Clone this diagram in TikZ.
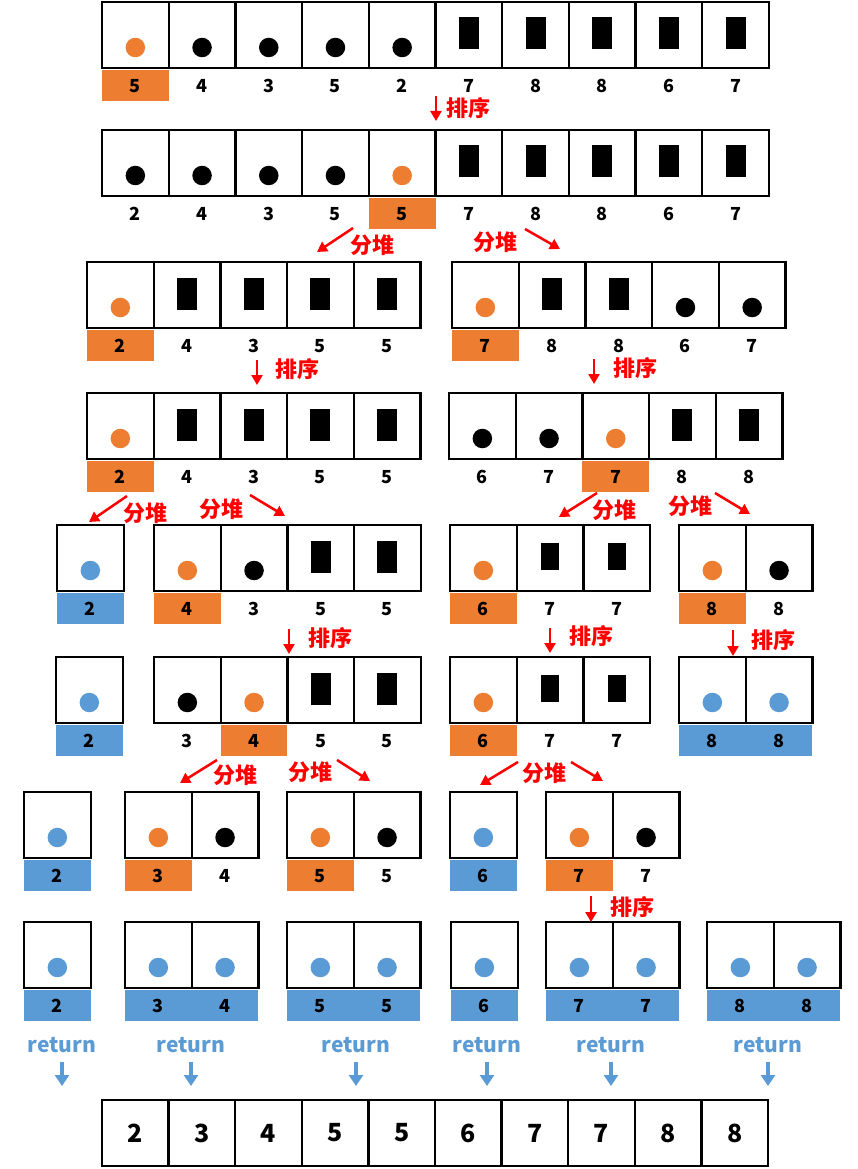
\documentclass[tikz,border=0pt]{standalone}
\usepackage{fontspec}
\setmainfont{Noto Sans CJK SC}
\usepackage{xcolor}
\usepackage{tikz}
\usetikzlibrary{arrows.meta}
\definecolor{qorange}{HTML}{ED7D31}
\definecolor{qblue}{HTML}{5B9BD5}
\definecolor{qred}{HTML}{FF0000}
\tikzset{
  cell/.style={draw, line width=2.3pt, fill=white, inner sep=0pt,
    minimum width=66.7pt, minimum height=66pt},
  dot/.style={circle, inner sep=0pt, minimum size=19.5pt, yshift=-12.5pt},
  figo/.style={dot, fill=qorange},
  figk/.style={dot, fill=black},
  figb/.style={dot, fill=qblue},
  figr/.style={rectangle, fill=black, inner sep=0pt,
    minimum width=20pt, minimum height=32pt, yshift=1.5pt},
  figs/.style={figr, minimum width=18pt, minimum height=27pt},
  tag/.style={inner sep=0pt, minimum width=66.7pt, minimum height=31pt,
    font=\bfseries\fontsize{18}{18}\selectfont},
  tago/.style={tag, fill=qorange},
  tagb/.style={tag, fill=qblue},
  tagn/.style={tag},
  bigcell/.style={cell, font=\bfseries\fontsize{25}{25}\selectfont},
  redtxt/.style={text=qred, inner sep=0pt, font=\bfseries\fontsize{22}{22}\selectfont},
  redarr/.style={-{Triangle[length=10pt,width=11pt]}, line width=2.5pt, qred},
  rettxt/.style={text=qblue, inner sep=0pt, font=\bfseries\fontsize{21}{21}\selectfont},
  retarr/.style={-{Triangle[length=11pt,width=14pt]}, line width=4pt, qblue},
}
% one array: name, left, top, list of figure/value/tag
\newcommand{\cellrow}[4]{%
  \foreach \fg/\val/\tg [count=\i] in {#4} {
    \node[cell] (#1-\i) at ({#2+(\i-0.5)*66.7},{#3+33}) {};
    \node[fig\fg] at (#1-\i.center) {};
    \node[tag\tg] (#1-\i-v) at ([yshift=-50.6pt]#1-\i.center) {\val};
  }}

\begin{document}
\begin{tikzpicture}[x=1pt, y=-1pt]
  \useasboundingbox (0,0) rectangle (858,1169);

  % input and first partition
  \cellrow{a}{102}{2}{o/5/o,k/4/n,k/3/n,k/5/n,k/2/n,r/7/n,r/8/n,r/8/n,r/6/n,r/7/n}
  \cellrow{b}{102}{130}{k/2/n,k/4/n,k/3/n,k/5/n,o/5/o,r/7/n,r/8/n,r/8/n,r/6/n,r/7/n}

  % two halves
  \cellrow{c}{87}{262}{o/2/o,r/4/n,r/3/n,r/5/n,r/5/n}
  \cellrow{d}{452}{262}{o/7/o,r/8/n,r/8/n,k/6/n,k/7/n}
  \cellrow{e}{87}{393}{o/2/o,r/4/n,r/3/n,r/5/n,r/5/n}
  \cellrow{f}{449}{393}{k/6/n,k/7/n,o/7/o,r/8/n,r/8/n}

  % third level
  \cellrow{g1}{57}{525}{b/2/b}
  \cellrow{g2}{154}{525}{o/4/o,k/3/n,r/5/n,r/5/n}
  \cellrow{g3}{450}{525}{o/6/o,s/7/n,s/7/n}
  \cellrow{g4}{679}{525}{o/8/o,k/8/n}
  \cellrow{h1}{56}{657}{b/2/b}
  \cellrow{h2}{154}{657}{k/3/n,o/4/o,r/5/n,r/5/n}
  \cellrow{h3}{450}{657}{o/6/o,s/7/n,s/7/n}
  \cellrow{h4}{679}{657}{b/8/b,b/8/b}

  % fourth level
  \cellrow{i1}{24}{792}{b/2/b}
  \cellrow{i2}{125}{792}{o/3/o,k/4/n}
  \cellrow{i3}{287}{792}{o/5/o,k/5/n}
  \cellrow{i4}{450}{792}{b/6/b}
  \cellrow{i5}{546}{792}{o/7/o,k/7/n}
  \cellrow{j1}{24}{922}{b/2/b}
  \cellrow{j2}{125}{922}{b/3/b,b/4/b}
  \cellrow{j3}{287}{922}{b/5/b,b/5/b}
  \cellrow{j4}{451}{922}{b/6/b}
  \cellrow{j5}{546}{922}{b/7/b,b/7/b}
  \cellrow{j6}{707}{922}{b/8/b,b/8/b}

  % sorting steps
  \node[redtxt] (p1) at (468,108) {排序};
  \node[redtxt] (p2) at (297,369) {排序};
  \node[redtxt] (p3) at (635,368) {排序};
  \node[redtxt] (p4) at (330,638) {排序};
  \node[redtxt] (p5) at (591,636) {排序};
  \node[redtxt] (p6) at (773,640) {排序};
  \node[redtxt] (p7) at (632,907) {排序};
  \coordinate (p1a) at (436,96);  \coordinate (p1b) at (436,121);
  \coordinate (p2a) at (257,360); \coordinate (p2b) at (257,385);
  \coordinate (p3a) at (594,359); \coordinate (p3b) at (594,384);
  \coordinate (p4a) at (289,629); \coordinate (p4b) at (289,654);
  \coordinate (p5a) at (550,628); \coordinate (p5b) at (550,653);
  \coordinate (p6a) at (733,630); \coordinate (p6b) at (733,656);
  \coordinate (p7a) at (591,896); \coordinate (p7b) at (591,922);
  \foreach \n in {1,...,7}
    \draw[redarr] (p\n a) -- (p\n b);

  % splitting steps
  \node[redtxt] (q1) at (372,245) {分堆};
  \node[redtxt] (q2) at (495,242) {分堆};
  \node[redtxt] (q3) at (145,513) {分堆};
  \node[redtxt] (q4) at (221,509) {分堆};
  \node[redtxt] (q5) at (614,510) {分堆};
  \node[redtxt] (q6) at (690,506) {分堆};
  \node[redtxt] (q7) at (235,775) {分堆};
  \node[redtxt] (q8) at (310,772) {分堆};
  \node[redtxt] (q9) at (544,773) {分堆};
  \coordinate (q1a) at (353,228); \coordinate (q1b) at (317,252);
  \coordinate (q2a) at (525,229); \coordinate (q2b) at (560,249);
  \coordinate (q3a) at (127,496); \coordinate (q3b) at (89,522);
  \coordinate (q4a) at (250,495); \coordinate (q4b) at (285,516);
  \coordinate (q5a) at (597,493); \coordinate (q5b) at (559,517);
  \coordinate (q6a) at (715,493); \coordinate (q6b) at (750,514);
  \coordinate (q7a) at (217,760); \coordinate (q7b) at (180,783);
  \coordinate (q8a) at (337,760); \coordinate (q8b) at (370,781);
  \coordinate (q9a) at (518,762); \coordinate (q9b) at (480,785);
  \coordinate (q10a) at (571,762); \coordinate (q10b) at (603,781);
  \foreach \n in {1,...,10}
    \draw[redarr] (q\n a) -- (q\n b);

  % merge back
  \foreach \x [count=\i] in {62,191,356,487,611,768} {
    \node[rettxt] (ret\i) at (\x,1045) {return};
    \coordinate (ret\i e) at (\x,1086);
    \draw[retarr] ([yshift=-9pt]ret\i.south) -- (ret\i e);
  }
  \foreach \val [count=\i] in {2,3,4,5,5,6,7,7,8,8}
    \node[bigcell] (z-\i) at ({102+(\i-0.5)*66.6},1133) {\val};
\end{tikzpicture}
\end{document}
